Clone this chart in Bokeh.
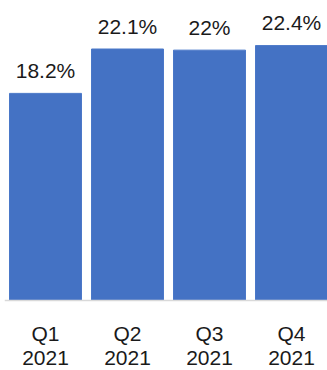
from bokeh.plotting import figure
from bokeh.models import Range1d, ColumnDataSource, Span
from bokeh.core.properties import value
from bokeh.embed import file_html
from bokeh.resources import INLINE

quarters = ["Q1", "Q2", "Q3", "Q4"]
years = ["2021", "2021", "2021", "2021"]
shares = [18.2, 22.1, 22.0, 22.4]
share_labels = ["18.2%", "22.1%", "22%", "22.4%"]

idx = list(range(len(quarters)))
src = ColumnDataSource(dict(x=idx, y=shares, lab=share_labels,
                            q=quarters, yr=years, base=[0] * len(idx)))

FONT = value("Liberation Sans")

p = figure(width=327, height=370, output_backend="svg", toolbar_location=None,
           x_range=Range1d(-0.5, 3.439), y_range=Range1d(-6.151, 26.362),
           min_border_left=4, min_border_right=0, min_border_top=0, min_border_bottom=0)
p.outline_line_color = None
p.background_fill_color = "white"
p.border_fill_color = "white"
p.xgrid.visible = False
p.ygrid.visible = False
p.xaxis.visible = False
p.yaxis.visible = False

p.vbar(x="x", top="y", width=0.878, bottom=0, source=src,
       fill_color="#4472C4", line_color="#4a78c8", line_width=1)

p.add_layout(Span(location=0, dimension="width", line_color="#d9d9d9", line_width=1.5))

p.text(x="x", y="y", text="lab", source=src, text_align="center",
       text_baseline="alphabetic", y_offset=-23, text_font=FONT,
       text_font_size="21px", text_color="#1a1a1a")

p.text(x="x", y="base", text="q", source=src, text_align="center",
       text_baseline="alphabetic", y_offset=33, text_font=FONT,
       text_font_size="21px", text_color="#1a1a1a")
p.text(x="x", y="base", text="yr", source=src, text_align="center",
       text_baseline="alphabetic", y_offset=57, text_font=FONT,
       text_font_size="21px", text_color="#1a1a1a")

open("out.html", "w").write(file_html(p, INLINE))
